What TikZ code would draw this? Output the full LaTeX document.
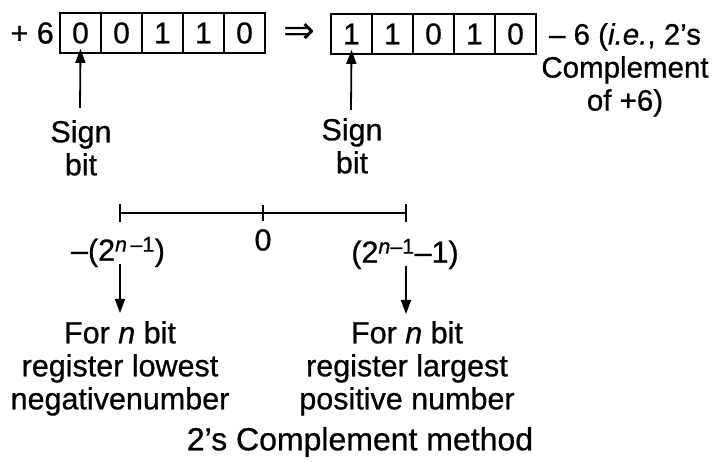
\documentclass[tikz,border=0pt]{standalone}
\usepackage{fontspec}
\setmainfont{Liberation Sans}[FakeBold=0.7]
\newfontfamily\symfont{DejaVu Sans}
\usetikzlibrary{arrows.meta}
\tikzset{
  cell/.style={draw, line width=1.8pt, minimum width=41pt, minimum height=40pt, inner sep=0pt, font=\fontsize{30}{33}\selectfont},
  txt/.style={inner sep=0pt, align=center, font=\fontsize{30.5}{33}\selectfont},
  arr/.style={line width=1.8pt, -{Triangle[width=10pt,length=14pt]}},
  nline/.style={line width=1.6pt}
}
\begin{document}
\begin{tikzpicture}[x=1pt,y=-1pt]
\useasboundingbox (0,0) rectangle (715,462);
% left register
\node[cell] (a1) at (80.5,33) {0};
\node[cell] (a2) at (121.5,33) {0};
\node[cell] (a3) at (162.5,33) {1};
\node[cell] (a4) at (203.5,33) {1};
\node[cell] (a5) at (244.5,33) {0};
\node[txt, anchor=east] (plus) at (54,33) {+ 6};
\node[txt] (impl) at (299,33) {\symfont\fontsize{38}{40}\selectfont ⇒};
% right register
\node[cell] (b1) at (351.5,34) {1};
\node[cell] (b2) at (392.5,34) {1};
\node[cell] (b3) at (433.5,34) {0};
\node[cell] (b4) at (474.5,34) {1};
\node[cell] (b5) at (515.5,34) {0};
\node[txt, anchor=north, font=\fontsize{29.5}{33}\selectfont] (minus) at (625,23) {– 6 (\textit{i.e.}, 2’s\\Complement\\of +6)};
% sign bits
\node[txt, anchor=north] (s1) at (81,120) {Sign\\bit};
\node[txt, anchor=north] (s2) at (352,118) {Sign\\bit};
\draw[arr] (s1.north) ++(-1,-12) coordinate (s1t) -- ([yshift=5pt]a1.south);
\draw[arr] (s2.north) ++(-1,-8) coordinate (s2t) -- ([yshift=5pt]b1.south);
% number line
\coordinate (L) at (120,213);
\coordinate (Z) at (263,213);
\coordinate (R) at (406,213);
\draw[nline] (L) -- (R);
\draw[nline] ([yshift=-9pt]L) -- ([yshift=9pt]L);
\draw[nline] ([yshift=-8pt]Z) -- ([yshift=8pt]Z);
\draw[nline] ([yshift=-9pt]R) -- ([yshift=9pt]R);
\node[txt] (lo) at (118,252) {–(2\textsuperscript{\textit{n}\,–1})};
\node[txt] (zero) at (263,240) {0};
\node[txt] (hi) at (405,254) {(2\textsuperscript{\textit{n}–1}–1)};
\node[txt, anchor=north] (lowtxt) at (120,321) {For \textit{n} bit\\register lowest\\negativenumber};
\node[txt, anchor=north] (hightxt) at (407,321) {For \textit{n} bit\\register largest\\positive number};
\draw[arr, shorten >=8pt] (120,264) -- (120,321);
\draw[arr, shorten >=7pt] (406,266) -- (406,321);
\node[txt, font=\fontsize{32}{34}\selectfont] (title) at (360,442) {2’s Complement method};
\end{tikzpicture}
\end{document}
